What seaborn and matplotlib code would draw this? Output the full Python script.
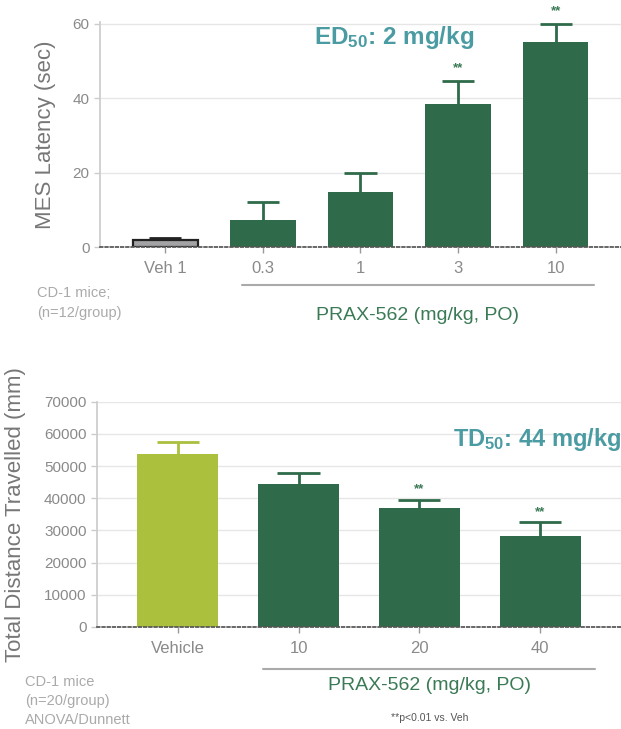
import seaborn as sns
import matplotlib.pyplot as plt
import pandas as pd
import numpy as np

# data - top panel (MES)
mes_groups = ['Veh 1', '0.3', '1', '3', '10']
mes_mean = [2.0, 7.2, 14.8, 38.5, 55.0]
mes_sem = [0.5, 5.0, 5.0, 6.0, 5.0]
mes_sig = ['', '', '', '**', '**']

# data - bottom panel (locomotor)
loc_groups = ['Vehicle', '10', '20', '40']
loc_mean = [53800, 44300, 37000, 28200]
loc_sem = [3800, 3600, 2600, 4400]
loc_sig = ['', '', '**', '**']

DARK = '#2f6b4a'
TEAL = '#4b9ba3'
GREY_TXT = '#8a8a8a'
LABEL_GREEN = '#3a7a55'

sns.set_theme(style='white')
plt.rcParams['font.family'] = ['Liberation Sans', 'DejaVu Sans']
plt.rcParams['mathtext.fontset'] = 'custom'
plt.rcParams['mathtext.rm'] = 'Liberation Sans'
plt.rcParams['mathtext.bf'] = 'Liberation Sans:bold'

fig = plt.figure(figsize=(6.21, 7.29), dpi=100)


def panel(ax, groups, mean, sem, sig, colors, edge, ylim, yticks, ylabel, star_off, capw):
    df = pd.DataFrame({'group': groups, 'value': mean})
    sns.barplot(data=df, x='group', y='value', hue='group', palette=colors,
                legend=False, width=0.67, ax=ax, saturation=1, linewidth=0)
    for p, e in zip(ax.patches, edge):
        if e is not None:
            p.set_edgecolor(e)
            p.set_linewidth(1.6)
    for i, (m, s) in enumerate(zip(mean, sem)):
        c = edge[i] if edge[i] is not None else colors[i]
        ax.vlines(i, m, m + s, color=c, lw=2, zorder=3)
        ax.hlines(m + s, i - capw / 2, i + capw / 2, color=c, lw=2, zorder=3)
        if sig[i]:
            ax.annotate(sig[i], (i, m + s), xytext=(0, star_off), textcoords='offset points',
                        ha='center', va='bottom', fontsize=9.5, fontweight='bold',
                        color=LABEL_GREEN)
    ax.set_ylim(*ylim)
    ax.set_xlim(-0.67, len(groups) - 0.33)
    ax.set_yticks(yticks)
    ax.yaxis.grid(True, color='#e6e6e6', lw=1)
    ax.set_axisbelow(True)
    for s in ['top', 'right']:
        ax.spines[s].set_visible(False)
    ax.spines['left'].set_color('#cccccc')
    ax.spines['bottom'].set_color('#555555')
    ax.spines['bottom'].set_linestyle((0, (1.5, 1.5)))
    ax.tick_params(axis='both', length=4, width=1, direction='out', left=True, bottom=True)
    ax.tick_params(axis='y', labelsize=11, labelcolor=GREY_TXT, color='#cccccc')
    ax.tick_params(axis='x', labelsize=12, labelcolor=GREY_TXT, color='#999999', pad=6)
    ax.set_xlabel('')
    ax.set_ylabel(ylabel, fontsize=16, color='#777777')


# top panel
ax1 = fig.add_axes([0.161, 0.661, 0.839, 0.309])
panel(ax1, mes_groups, mes_mean, mes_sem, mes_sig,
      ['#a3a3a6', DARK, DARK, DARK, DARK], ['#222222', None, None, None, None],
      (0, 60.5), [0, 20, 40, 60], 'MES Latency (sec)', 5, 0.33)
ax1.yaxis.set_label_coords(-0.085, 0.5)
ax1.text(0.41, 0.93, r'$\mathbf{ED_{50}}$' + ': 2 mg/kg', transform=ax1.transAxes,
         fontsize=17.5, fontweight='bold', color=TEAL, ha='left', va='center')

fig.add_artist(plt.Line2D([242 / 621, 594 / 621], [1 - 285 / 729] * 2, color='#aaaaaa', lw=1.5))
fig.text(418 / 621, 1 - 316 / 729, 'PRAX-562 (mg/kg, PO)', fontsize=14, color=LABEL_GREEN,
         ha='center', va='center')
fig.text(37 / 621, 1 - 286 / 729, 'CD-1 mice;\n(n=12/group)', fontsize=10.5, color='#aaaaaa',
         ha='left', va='top', linespacing=1.5)

# bottom panel
ax2 = fig.add_axes([0.156, 0.140, 0.844, 0.309])
panel(ax2, loc_groups, loc_mean, loc_sem, loc_sig,
      ['#abc03c', DARK, DARK, DARK], [None, None, None, None],
      (0, 70000), np.arange(0, 70001, 10000), 'Total Distance Travelled (mm)', 3, 0.35)
ax2.yaxis.set_label_coords(-0.135, 0.5)
ax2.text(1.0, 0.83, r'$\mathbf{TD_{50}}$' + ': 44 mg/kg', transform=ax2.transAxes,
         fontsize=17, fontweight='bold', color=TEAL, ha='right', va='center')

fig.add_artist(plt.Line2D([263 / 621, 595 / 621], [1 - 669 / 729] * 2, color='#aaaaaa', lw=1.5))
fig.text(430 / 621, 1 - 686 / 729, 'PRAX-562 (mg/kg, PO)', fontsize=14, color=LABEL_GREEN,
         ha='center', va='center')
fig.text(25 / 621, 1 - 675 / 729, 'CD-1 mice\n(n=20/group)\nANOVA/Dunnett', fontsize=10.5,
         color='#aaaaaa', ha='left', va='top', linespacing=1.45)
fig.text(430 / 621, 1 - 718 / 729, '**p<0.01 vs. Veh', fontsize=7.5, color='#555555',
         ha='center', va='center')

fig.savefig('out.png', dpi=100)
